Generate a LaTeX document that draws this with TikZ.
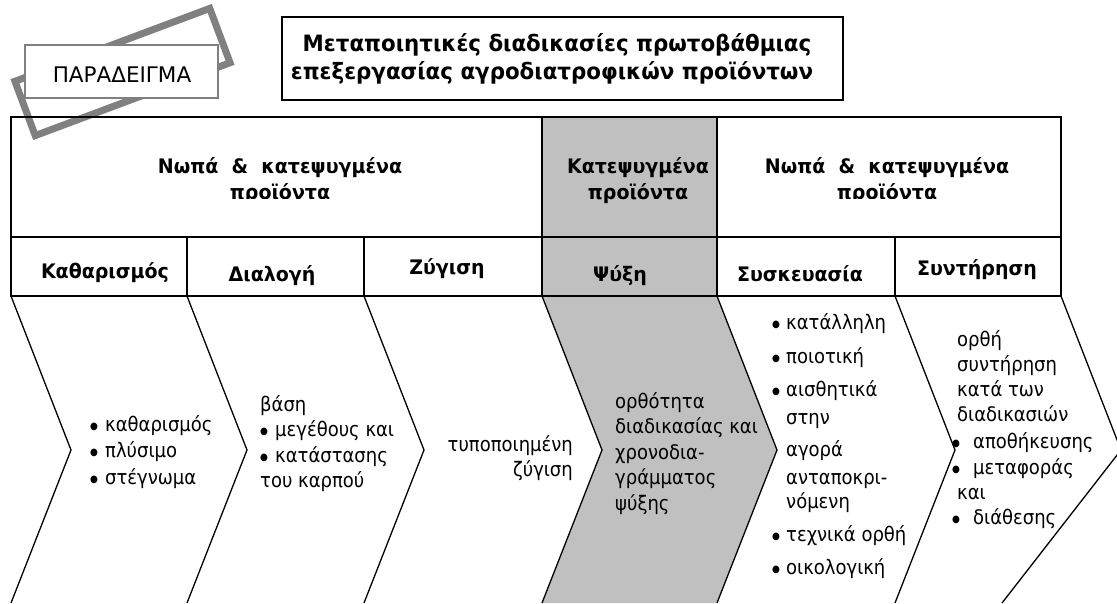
\documentclass[tikz,border=0pt]{standalone}
\usepackage{fontspec}
\setmainfont{DejaVu Sans}[FakeStretch=0.9]
\newfontfamily\bfam{DejaVu Sans}[FakeStretch=0.95]
\newfontfamily\plainfam{DejaVu Sans}
\definecolor{cellgrey}{RGB}{192,192,192}
\definecolor{stampgrey}{RGB}{128,128,128}
\newcommand\fs{\rule{0pt}{18pt}}
\newcommand\bul[1][15pt]{\makebox[#1][l]{\raisebox{1.8pt}{\fontsize{10}{10}\selectfont ●}}}
\begin{document}
\begin{tikzpicture}[x=1pt,y=-1pt,
  body/.style={font=\fontsize{20}{25.5}\selectfont, inner sep=0pt, align=left, anchor=north west},
  hdr/.style={font=\bfam\bfseries\fontsize{20}{26}\selectfont, inner sep=0pt, anchor=base},
  ttl/.style={font=\bfam\bfseries\fontsize{22.5}{28}\selectfont, inner sep=0pt, anchor=base},
  tab/.style={line width=2.5pt, line cap=rect},
  chev/.style={line width=1.3pt, line join=miter}]
\useasboundingbox (0,0) rectangle (1117,603);

% stamp
\node[draw=stampgrey, line width=7pt, rotate=20.5, minimum width=208pt, minimum height=58pt, inner sep=0pt] (stamp) at (122.5,72) {};
\node[draw=stampgrey, fill=white, line width=1.5pt, minimum width=193pt, minimum height=53pt, inner sep=0pt] (parabox) at (121.5,71.5) {};
\node[font=\plainfam\fontsize{21.5}{25}\selectfont, inner sep=0pt, anchor=base] (para) at (122,82) {ΠΑΡΑΔΕΙΓΜΑ};

% title
\node[draw, line width=2.5pt, minimum width=561pt, minimum height=83pt, inner sep=0pt] (titlebox) at (562.5,58.5) {};
\node[ttl] (title1) at (557,51) {Μεταποιητικές διαδικασίες πρωτοβάθμιας};
\node[ttl] (title2) at (552,79) {επεξεργασίας αγροδιατροφικών προϊόντων};

% grey column and chevron
\fill[cellgrey] (542,117) rectangle (717,296);
\fill[cellgrey] (542,296) -- (602,450) -- (542,603) -- (717,603) -- (777,450) -- (717,296) -- cycle;

% table
\draw[tab] (11,117) rectangle (1061,296);
\draw[tab] (11,237) -- (1061,237);
\draw[tab] (542,117) -- (542,296);
\draw[tab] (717,117) -- (717,296);
\draw[tab] (187,237) -- (187,296);
\draw[tab] (364,237) -- (364,296);
\draw[tab] (895,237) -- (895,296);

% chevrons
\foreach \cx in {11,187,364,542,717,895}{
  \draw[chev] (\cx,296) -- (\cx+60,450) -- (\cx,603);
}
\draw[chev] (1061,296) -- (1121,450) -- (1002,603);

% header row 1
\begin{scope}
\clip (11,117) rectangle (542,198);
\node[hdr] (h1a) at (280,173) {Νωπά\ \ \&\ \ κατεψυγμένα};
\node[hdr] (h1b) at (280,199) {προϊόντα};
\end{scope}
\node[hdr] (h2a) at (638,173) {Κατεψυγμένα};
\node[hdr] (h2b) at (638,199) {προϊόντα};
\begin{scope}
\clip (717,117) rectangle (1061,198);
\node[hdr] (h3a) at (887,173) {Νωπά\ \ \&\ \ κατεψυγμένα};
\node[hdr] (h3b) at (887,199) {προϊόντα};
\end{scope}

% header row 2
\node[hdr] (s1) at (105,278) {Καθαρισμός};
\node[hdr] (s2) at (272,281) {Διαλογή};
\node[hdr] (s3) at (447,274) {Ζύγιση};
\node[hdr] (s4) at (620,281) {Ψύξη};
\node[hdr] (s5) at (800,281) {Συσκευασία};
\node[hdr] (s6) at (977,275) {Συντήρηση};

% chevron texts
\node[body] (c1) at (90,413) {\fs\bul καθαρισμός\\[1pt]\bul πλύσιμο\\[1pt]\bul στέγνωμα};
\node[body] (c2) at (260,393) {\fs βάση\\\bul μεγέθους και\\\bul κατάστασης\\του καρπού};
\node[body, align=right, anchor=north east] (c3) at (573,433) {\fs τυποποιημένη\\ζύγιση};
\node[body] (c4) at (615,390) {\fs ορθότητα\\διαδικασίας και\\χρονοδια-\\γράμματος\\ψύξης};
\node[body] (c5) at (772,311) {\fs\bul[14pt]κατάλληλη\\[8.5pt]
\bul[14pt]ποιοτική\\[7.5pt]
\bul[14pt]αισθητικά\\[2.5pt]
\hspace*{14pt}στην\\[6.5pt]
\hspace*{14pt}αγορά\\[2.5pt]
\hspace*{14pt}ανταποκρι-\\[-1.5pt]
\hspace*{14pt}νόμενη\\[7.5pt]
\bul[14pt]τεχνικά ορθή\\[7.5pt]
\bul[14pt]οικολογική};
\node[body, font=\fontsize{20}{25}\selectfont] (c6) at (952,328) {\fs\hspace*{5pt}ορθή\\
\hspace*{5pt}συντήρηση\\
\hspace*{5pt}κατά των\\
\hspace*{5pt}διαδικασιών\\[2pt]
\bul[21pt]αποθήκευσης\\[1pt]
\bul[21pt]μεταφοράς\\
\hspace*{5pt}και\\
\bul[21pt]διάθεσης};
\end{tikzpicture}
\end{document}
